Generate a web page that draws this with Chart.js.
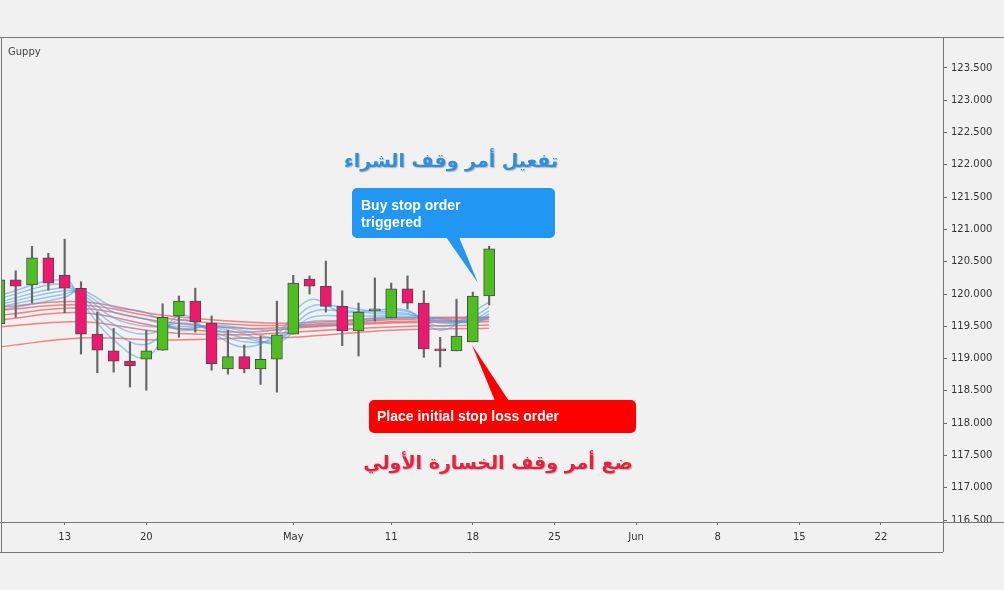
<!DOCTYPE html>
<html>
<head>
<meta charset="utf-8">
<script src="https://cdn.jsdelivr.net/npm/chart.js@4"></script>
<style>
  html, body { margin: 0; padding: 0; background: #f1f1f1; }
  #wrap { width: 1004px; height: 590px; position: relative; }
</style>
</head>
<body>
<div id="wrap"><canvas id="chart"></canvas></div>
<script>
// trading day index: 0 = Apr 7 ... 30 = May 19
const opens  = [119.54,120.22,120.14,120.56,120.29,120.09,119.38,119.12,118.96,118.99,119.13,119.66,119.89,119.55,118.84,119.03,
                118.84,118.99,119.38,120.23,120.12,119.81,119.43,119.74,119.63,120.08,119.86,119.15,119.12,119.26,119.97];
const closes = [120.22,120.12,120.56,120.17,120.09,119.38,119.13,118.96,118.89,119.12,119.64,119.89,119.57,118.92,119.03,118.84,
                118.99,119.37,120.17,120.12,119.81,119.43,119.72,119.77,120.08,119.86,119.15,119.12,119.35,119.97,120.70];
const highs  = [120.30,120.36,120.74,120.63,120.85,120.19,119.72,119.47,119.26,119.44,119.85,119.97,120.09,119.66,119.44,119.21,
                119.35,119.89,120.29,120.28,120.51,120.05,119.86,120.25,120.17,120.28,120.05,119.33,119.92,120.03,120.74];
const lows   = [119.50,119.64,119.86,120.06,119.71,119.07,118.78,118.79,118.56,118.51,119.13,119.33,119.41,118.82,118.76,118.78,
                118.60,118.48,119.38,120.00,119.72,119.20,119.04,119.58,119.63,119.77,119.02,118.87,119.12,119.26,119.83];

// Guppy long-term averages (red), sampled days
const redDays = [0,5,10,15,18,24,30];
const red1 = [119.80,119.88,119.67,119.57,119.55,119.63,119.64];
const red2 = [119.75,119.83,119.63,119.52,119.52,119.60,119.63];
const red3 = [119.67,119.78,119.57,119.47,119.49,119.57,119.60];
const red4 = [119.60,119.71,119.49,119.41,119.47,119.55,119.57];
const red5 = [119.49,119.57,119.41,119.37,119.41,119.49,119.52];
const red6 = [119.18,119.32,119.29,119.32,119.33,119.44,119.47];

// Guppy short-term averages (blue), sampled days
const blueDays = [0,4,5,7,9,11,13,15,17,19,21,23,25,27,29,30];
const blue1 = [119.98,120.22,119.88,119.29,119.02,119.67,119.40,119.18,119.38,119.91,119.72,119.75,119.75,119.44,119.72,119.88];
const blue2 = [119.93,120.16,119.93,119.42,119.22,119.60,119.43,119.26,119.32,119.80,119.80,119.73,119.73,119.50,119.65,119.80];
const blue3 = [119.88,120.10,119.97,119.53,119.38,119.55,119.46,119.32,119.27,119.71,119.74,119.70,119.70,119.55,119.60,119.74];
const blue4 = [119.84,120.05,120.00,119.63,119.50,119.50,119.48,119.38,119.24,119.63,119.66,119.66,119.68,119.58,119.57,119.69];
const blue5 = [119.80,120.00,120.03,119.72,119.61,119.47,119.50,119.43,119.33,119.57,119.58,119.63,119.65,119.61,119.56,119.66];
const blue6 = [119.75,119.95,120.06,119.80,119.71,119.44,119.52,119.47,119.44,119.52,119.52,119.60,119.63,119.63,119.55,119.64];

const tickDays   = [4, 9, 18, 24, 29, 34, 39, 44, 49, 54];
const tickLabels = ['13', '20', 'May', '11', '18', '25', 'Jun', '8', '15', '22'];
const priceTicks = [116.5,117,117.5,118,118.5,119,119.5,120,120.5,121,121.5,122,122.5,123,123.5];

const GREEN = '#4dbf1f', PINK = '#f0186e';
const up = opens.map((o, i) => closes[i] >= o);
const line = (days, vals, color) => ({
  type: 'line', data: days.map((d, i) => ({ x: d, y: vals[i] })),
  borderColor: color, borderWidth: 1.5, pointRadius: 0, tension: 0.4, order: 3
});

const frame = {
  id: 'frame',
  afterDraw(chart) {
    const c = chart.ctx, a = chart.chartArea;
    c.save();
    c.strokeStyle = '#777'; c.lineWidth = 1;
    c.beginPath();
    c.moveTo(0, a.top + 0.5); c.lineTo(1004, a.top + 0.5);
    c.moveTo(a.left + 0.5, a.top); c.lineTo(a.left + 0.5, 552);
    c.moveTo(a.right + 0.5, a.top); c.lineTo(a.right + 0.5, 552);
    c.moveTo(0, a.bottom + 0.5); c.lineTo(1004, a.bottom + 0.5);
    c.moveTo(0, 552.5); c.lineTo(a.right, 552.5);
    c.stroke();
    c.fillStyle = '#444'; c.font = '10px "DejaVu Sans"';
    c.fillText('Guppy', 8, 55);

    const round = (x, y, w, h, r) => { c.beginPath(); c.roundRect(x, y, w, h, r); c.fill(); };
    // blue callout
    c.fillStyle = '#2196f3';
    round(352, 188, 203, 50, 5);
    c.beginPath(); c.moveTo(446, 237); c.lineTo(459, 237); c.lineTo(478, 283); c.closePath(); c.fill();
    c.fillStyle = '#fff'; c.font = 'bold 14px "Liberation Sans"';
    c.fillText('Buy stop order', 361, 210);
    c.fillText('triggered', 361, 227);
    // red callout
    c.fillStyle = '#ff0000';
    round(369, 400, 267, 33, 5);
    c.beginPath(); c.moveTo(472, 345); c.lineTo(495, 401); c.lineTo(509, 401); c.closePath(); c.fill();
    c.fillStyle = '#fff';
    c.fillText('Place initial stop loss order', 377, 421);
    // arabic captions
    c.font = 'bold 19px "DejaVu Sans"'; c.textAlign = 'center'; c.direction = 'rtl';
    c.shadowColor = 'rgba(0,0,0,0.25)'; c.shadowOffsetX = 1; c.shadowOffsetY = 1; c.shadowBlur = 1;
    c.fillStyle = '#2e8fe0'; c.fillText('تفعيل أمر وقف الشراء', 451, 167);
    c.fillStyle = '#ea1f3c'; c.fillText('ضع أمر وقف الخسارة الأولي', 498, 469);
    c.restore();
  }
};

new Chart(document.getElementById('chart'), {
  data: {
    datasets: [
      { type: 'bar', data: opens.map((o, i) => ({ x: i, y: [Math.min(o, closes[i]), Math.max(o, closes[i])] })),
        backgroundColor: up.map(u => u ? GREEN : PINK), borderColor: '#4a4a4a', borderWidth: 1,
        borderSkipped: false, barThickness: 11, grouped: false, order: 0 },
      { type: 'bar', data: highs.map((h, i) => ({ x: i, y: [lows[i], h] })),
        backgroundColor: '#666', barThickness: 1.5, grouped: false, order: 1 },
      line(blueDays, blue1, 'rgba(70,160,235,0.55)'),
      line(blueDays, blue2, 'rgba(70,160,235,0.55)'),
      line(blueDays, blue3, 'rgba(70,160,235,0.55)'),
      line(blueDays, blue4, 'rgba(70,160,235,0.55)'),
      line(blueDays, blue5, 'rgba(70,160,235,0.55)'),
      line(blueDays, blue6, 'rgba(70,160,235,0.55)'),
      line(redDays, red1, 'rgba(240,60,60,0.6)'),
      line(redDays, red2, 'rgba(240,60,60,0.6)'),
      line(redDays, red3, 'rgba(240,60,60,0.6)'),
      line(redDays, red4, 'rgba(240,60,60,0.6)'),
      line(redDays, red5, 'rgba(240,60,60,0.6)'),
      line(redDays, red6, 'rgba(240,60,60,0.6)')
    ]
  },
  options: {
    responsive: true, maintainAspectRatio: false, animation: false,
    layout: { padding: { left: 1, top: 37, right: 0, bottom: 38 } },
    plugins: { legend: { display: false }, tooltip: { enabled: false } },
    scales: {
      x: {
        type: 'linear', min: 0.1, max: 57.8, offset: false,
        afterFit: s => { s.height = 30; },
        afterBuildTicks: s => { s.ticks = tickDays.map(v => ({ value: v })); },
        ticks: { autoSkip: false, maxRotation: 0, color: '#333', font: { family: 'DejaVu Sans', size: 10 }, padding: 6,
                 callback: v => tickLabels[tickDays.indexOf(v)] },
        grid: { offset: false, drawOnChartArea: false, tickLength: 3, color: '#666' },
        border: { display: false }
      },
      y: {
        position: 'right', min: 116.47, max: 123.98,
        afterFit: s => { s.width = 61; },
        afterBuildTicks: s => { s.ticks = priceTicks.map(v => ({ value: v })); },
        ticks: { color: '#333', font: { family: 'DejaVu Sans', size: 10 }, padding: 4, callback: v => v.toFixed(3) },
        grid: { drawOnChartArea: false, tickLength: 4, color: '#666' },
        border: { display: false }
      }
    }
  },
  plugins: [frame]
});
</script>
</body>
</html>
